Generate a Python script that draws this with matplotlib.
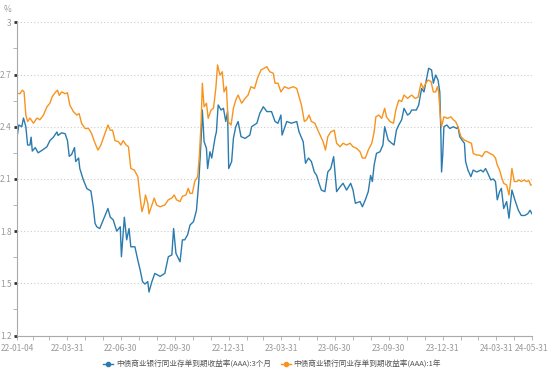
import pandas as pd
import matplotlib
matplotlib.use('Agg')
import matplotlib.pyplot as plt
import matplotlib.dates as mdates
from matplotlib.ticker import MultipleLocator

plt.rcParams['font.family'] = ['Noto Sans CJK SC', 'DejaVu Sans']

# 中债商业银行同业存单到期收益率(AAA):3个月
dates_3m = [
    '2022-01-04', '2022-01-07', '2022-01-12', '2022-01-15', '2022-01-19', '2022-01-22', '2022-01-26',
    '2022-01-28', '2022-01-30', '2022-02-04', '2022-02-09', '2022-02-18', '2022-02-24', '2022-03-01',
    '2022-03-07', '2022-03-13', '2022-03-15', '2022-03-21', '2022-03-27', '2022-03-31', '2022-04-03',
    '2022-04-07', '2022-04-12', '2022-04-14', '2022-04-19', '2022-04-21', '2022-04-27', '2022-05-03',
    '2022-05-10', '2022-05-14', '2022-05-17', '2022-05-20', '2022-05-25', '2022-05-31', '2022-06-08',
    '2022-06-12', '2022-06-17', '2022-06-23', '2022-06-29', '2022-07-01', '2022-07-06', '2022-07-10',
    '2022-07-14', '2022-07-17', '2022-07-24', '2022-07-29', '2022-08-02', '2022-08-06', '2022-08-10',
    '2022-08-15', '2022-08-17', '2022-08-22', '2022-08-27', '2022-09-05', '2022-09-13', '2022-09-19',
    '2022-09-25', '2022-09-28', '2022-10-02', '2022-10-09', '2022-10-13', '2022-10-17', '2022-10-22',
    '2022-10-26', '2022-11-01', '2022-11-06', '2022-11-10', '2022-11-14', '2022-11-16', '2022-11-19',
    '2022-11-23', '2022-11-25', '2022-11-29', '2022-12-02', '2022-12-08', '2022-12-10', '2022-12-13',
    '2022-12-18', '2022-12-22', '2022-12-26', '2022-12-29', '2022-12-31', '2023-01-05', '2023-01-08',
    '2023-01-12', '2023-01-16', '2023-01-21', '2023-01-28', '2023-02-05', '2023-02-08', '2023-02-17',
    '2023-02-22', '2023-02-28', '2023-03-06', '2023-03-14', '2023-03-20', '2023-03-25', '2023-03-30',
    '2023-04-01', '2023-04-09', '2023-04-17', '2023-04-26', '2023-04-30', '2023-05-07', '2023-05-11',
    '2023-05-16', '2023-05-21', '2023-05-26', '2023-05-30', '2023-06-03', '2023-06-07', '2023-06-13',
    '2023-06-18', '2023-06-23', '2023-06-28', '2023-07-03', '2023-07-09', '2023-07-14', '2023-07-20',
    '2023-07-27', '2023-07-31', '2023-08-04', '2023-08-12', '2023-08-16', '2023-08-21', '2023-08-26',
    '2023-08-30', '2023-09-02', '2023-09-05', '2023-09-09', '2023-09-15', '2023-09-20', '2023-09-23',
    '2023-09-29', '2023-10-05', '2023-10-09', '2023-10-13', '2023-10-17', '2023-10-22', '2023-10-26',
    '2023-11-01', '2023-11-05', '2023-11-08', '2023-11-16', '2023-11-20', '2023-11-25', '2023-11-29',
    '2023-12-03', '2023-12-07', '2023-12-12', '2023-12-15', '2023-12-19', '2023-12-23', '2023-12-26',
    '2023-12-28', '2023-12-29', '2023-12-31', '2024-01-02', '2024-01-07', '2024-01-12', '2024-01-18',
    '2024-01-24', '2024-01-26', '2024-01-29', '2024-02-02', '2024-02-06', '2024-02-08', '2024-02-12',
    '2024-02-17', '2024-02-21', '2024-02-27', '2024-03-05', '2024-03-09', '2024-03-13', '2024-03-17',
    '2024-03-22', '2024-03-26', '2024-03-30', '2024-04-02', '2024-04-06', '2024-04-09', '2024-04-13',
    '2024-04-18', '2024-04-22', '2024-04-25', '2024-04-27', '2024-05-02', '2024-05-08', '2024-05-13',
    '2024-05-19', '2024-05-24', '2024-05-28', '2024-05-31',
]
yield_3m = [
    2.34, 2.41, 2.40, 2.45, 2.40, 2.295, 2.295,
    2.34, 2.26, 2.28, 2.25, 2.27, 2.285, 2.32,
    2.34, 2.37, 2.35, 2.365, 2.36, 2.32, 2.23,
    2.24, 2.28, 2.20, 2.22, 2.16, 2.095, 2.045,
    2.03, 1.94, 1.845, 1.825, 1.815, 1.865, 1.93,
    1.88, 1.865, 1.80, 1.825, 1.653, 1.88, 1.75,
    1.815, 1.71, 1.71, 1.633, 1.576, 1.51, 1.496,
    1.51, 1.45, 1.51, 1.557, 1.54, 1.557, 1.653,
    1.663, 1.815, 1.672, 1.624, 1.75, 1.75, 1.78,
    1.835, 1.855, 1.92, 2.085, 2.333, 2.496, 2.314,
    2.276, 2.16, 2.256, 2.22, 2.343, 2.37, 2.525,
    2.496, 2.506, 2.43, 2.487, 2.16, 2.20, 2.333,
    2.40, 2.43, 2.343, 2.333, 2.352, 2.40, 2.42,
    2.477, 2.515, 2.487, 2.487, 2.43, 2.42, 2.467,
    2.352, 2.43, 2.42, 2.43, 2.37, 2.314, 2.19,
    2.22, 2.20, 2.14, 2.12, 2.075, 2.036, 2.027,
    2.14, 2.16, 2.228, 2.027, 2.055, 2.075, 2.036,
    2.075, 2.036, 1.96, 1.97, 1.94, 1.98, 2.027,
    2.12, 2.085, 2.18, 2.247, 2.256, 2.295, 2.40,
    2.323, 2.305, 2.295, 2.38, 2.41, 2.44, 2.506,
    2.467, 2.477, 2.496, 2.496, 2.525, 2.62, 2.60,
    2.668, 2.736, 2.726, 2.65, 2.697, 2.668, 2.60,
    2.333, 2.14, 2.237, 2.40, 2.41, 2.39, 2.40,
    2.39, 2.40, 2.343, 2.323, 2.305, 2.20, 2.151,
    2.113, 2.151, 2.14, 2.151, 2.14, 2.16, 2.132,
    2.094, 2.10, 2.085, 1.98, 2.027, 2.046, 1.93,
    1.97, 1.874, 1.97, 2.036, 1.98, 1.92, 1.89,
    1.89, 1.90, 1.92, 1.90,
]

# 中债商业银行同业存单到期收益率(AAA):1年
dates_1y = [
    '2022-01-04', '2022-01-09', '2022-01-13', '2022-01-16', '2022-01-19', '2022-01-22', '2022-01-26',
    '2022-02-01', '2022-02-07', '2022-02-12', '2022-02-18', '2022-02-24', '2022-03-01', '2022-03-05',
    '2022-03-11', '2022-03-14', '2022-03-17', '2022-03-21', '2022-03-27', '2022-03-31', '2022-04-04',
    '2022-04-10', '2022-04-16', '2022-04-20', '2022-04-24', '2022-04-30', '2022-05-06', '2022-05-11',
    '2022-05-17', '2022-05-22', '2022-05-27', '2022-06-02', '2022-06-08', '2022-06-12', '2022-06-16',
    '2022-06-20', '2022-06-26', '2022-06-30', '2022-07-04', '2022-07-09', '2022-07-13', '2022-07-17',
    '2022-07-23', '2022-07-29', '2022-08-02', '2022-08-05', '2022-08-09', '2022-08-11', '2022-08-15',
    '2022-08-17', '2022-08-22', '2022-08-26', '2022-08-30', '2022-09-05', '2022-09-13', '2022-09-19',
    '2022-09-25', '2022-09-29', '2022-10-03', '2022-10-09', '2022-10-13', '2022-10-19', '2022-10-23',
    '2022-10-26', '2022-10-30', '2022-11-03', '2022-11-08', '2022-11-11', '2022-11-14', '2022-11-16',
    '2022-11-19', '2022-11-23', '2022-11-26', '2022-12-01', '2022-12-05', '2022-12-09', '2022-12-12',
    '2022-12-16', '2022-12-20', '2022-12-23', '2022-12-27', '2022-12-30', '2023-01-04', '2023-01-08',
    '2023-01-12', '2023-01-16', '2023-01-22', '2023-01-28', '2023-02-02', '2023-02-07', '2023-02-13',
    '2023-02-18', '2023-02-24', '2023-03-06', '2023-03-11', '2023-03-17', '2023-03-20', '2023-03-25',
    '2023-03-30', '2023-04-05', '2023-04-12', '2023-04-20', '2023-04-26', '2023-04-30', '2023-05-04',
    '2023-05-09', '2023-05-13', '2023-05-17', '2023-05-21', '2023-05-27', '2023-06-01', '2023-06-06',
    '2023-06-10', '2023-06-14', '2023-06-18', '2023-06-23', '2023-06-29', '2023-07-03', '2023-07-09',
    '2023-07-14', '2023-07-20', '2023-07-26', '2023-07-31', '2023-08-06', '2023-08-12', '2023-08-16',
    '2023-08-21', '2023-08-26', '2023-09-01', '2023-09-05', '2023-09-08', '2023-09-13', '2023-09-18',
    '2023-09-23', '2023-09-26', '2023-10-02', '2023-10-08', '2023-10-12', '2023-10-17', '2023-10-22',
    '2023-10-26', '2023-11-01', '2023-11-08', '2023-11-14', '2023-11-19', '2023-11-24', '2023-11-28',
    '2023-12-02', '2023-12-06', '2023-12-11', '2023-12-15', '2023-12-19', '2023-12-22', '2023-12-24',
    '2023-12-27', '2023-12-29', '2024-01-02', '2024-01-08', '2024-01-14', '2024-01-18', '2024-01-22',
    '2024-01-26', '2024-01-31', '2024-02-06', '2024-02-12', '2024-02-18', '2024-02-21', '2024-02-27',
    '2024-03-03', '2024-03-07', '2024-03-12', '2024-03-16', '2024-03-20', '2024-03-26', '2024-03-30',
    '2024-04-02', '2024-04-06', '2024-04-10', '2024-04-13', '2024-04-18', '2024-04-22', '2024-04-25',
    '2024-04-27', '2024-05-01', '2024-05-05', '2024-05-09', '2024-05-13', '2024-05-18', '2024-05-22',
    '2024-05-26', '2024-05-29', '2024-05-31',
]
yield_1y = [
    2.592, 2.59, 2.61, 2.60, 2.467, 2.43, 2.45,
    2.42, 2.45, 2.44, 2.467, 2.515, 2.535, 2.573,
    2.60, 2.61, 2.58, 2.60, 2.59, 2.595, 2.525,
    2.487, 2.467, 2.475, 2.42, 2.39, 2.39, 2.362,
    2.305, 2.266, 2.295, 2.352, 2.41, 2.38, 2.38,
    2.32, 2.314, 2.295, 2.32, 2.295, 2.285, 2.16,
    2.151, 2.113, 1.99, 1.912, 1.96, 2.008, 1.96,
    1.90, 1.95, 1.99, 1.95, 1.94, 1.95, 1.98,
    1.99, 2.008, 1.98, 1.97, 2.0, 2.008, 2.046,
    2.017, 2.017, 2.085, 2.113, 2.237, 2.43, 2.65,
    2.515, 2.535, 2.448, 2.496, 2.506, 2.62, 2.755,
    2.697, 2.716, 2.60, 2.63, 2.43, 2.41, 2.506,
    2.553, 2.582, 2.535, 2.563, 2.582, 2.63, 2.62,
    2.678, 2.726, 2.745, 2.716, 2.707, 2.65, 2.65,
    2.60, 2.63, 2.62, 2.63, 2.62, 2.573, 2.525,
    2.43, 2.44, 2.467, 2.43, 2.42, 2.38, 2.343,
    2.314, 2.266, 2.343, 2.37, 2.38, 2.305, 2.285,
    2.305, 2.295, 2.305, 2.285, 2.276, 2.256, 2.22,
    2.22, 2.266, 2.305, 2.37, 2.457, 2.467, 2.448,
    2.506, 2.457, 2.43, 2.42, 2.496, 2.553, 2.545,
    2.582, 2.563, 2.582, 2.563, 2.57, 2.65, 2.62,
    2.65, 2.668, 2.66, 2.60, 2.60, 2.63, 2.60,
    2.457, 2.40, 2.457, 2.448, 2.457, 2.44, 2.43,
    2.40, 2.343, 2.323, 2.314, 2.305, 2.247, 2.237,
    2.237, 2.228, 2.256, 2.256, 2.247, 2.237, 2.22,
    2.18, 2.151, 2.103, 2.075, 2.065, 2.008, 2.094,
    2.16, 2.085, 2.085, 2.094, 2.085, 2.094, 2.085,
    2.09, 2.065, 2.065,
]

label_3m = '中债商业银行同业存单到期收益率(AAA):3个月'
label_1y = '中债商业银行同业存单到期收益率(AAA):1年'
tick_dates = ['2022-01-04', '2022-03-31', '2022-06-30', '2022-09-30', '2022-12-31', '2023-03-31',
              '2023-06-30', '2023-09-30', '2023-12-31', '2024-03-31', '2024-05-31']

blue = '#2a7bae'
orange = '#f7931e'
grey = '#999999'

fig = plt.figure(figsize=(5.5, 3.72), dpi=100)
ax = fig.add_axes([0.031, 0.098, 0.936, 0.842])

ax.plot(pd.to_datetime(dates_3m), yield_3m, color=blue, lw=1.0, label=label_3m)
ax.plot(pd.to_datetime(dates_1y), yield_1y, color=orange, lw=1.0, label=label_1y)

ax.set_ylim(1.2, 3.0)
ax.set_xlim(pd.Timestamp('2022-01-04'), pd.Timestamp('2024-05-31'))
ax.yaxis.set_major_locator(MultipleLocator(0.3))
ax.yaxis.set_minor_locator(MultipleLocator(0.15))
ax.yaxis.set_major_formatter(plt.FuncFormatter(lambda v, p: ('%.1f' % v).rstrip('0').rstrip('.')))
ax.grid(axis='y', which='major', linestyle=(0, (1, 2)), color='#cccccc', lw=0.8)

ticks = pd.to_datetime(tick_dates)
ax.set_xticks(ticks)
ax.set_xticklabels([t.strftime('%y-%m-%d') for t in ticks])
ax.xaxis.set_minor_locator(mdates.MonthLocator(bymonthday=-1))

for s in ['top', 'right']:
    ax.spines[s].set_visible(False)
for s in ['left', 'bottom']:
    ax.spines[s].set_color('#aaaaaa')
    ax.spines[s].set_linewidth(0.8)

ax.tick_params(axis='y', which='major', length=2, width=2, color='#333333',
               labelsize=6, labelcolor=grey, pad=2)
ax.tick_params(axis='y', which='minor', length=3, width=0.6, color='#aaaaaa')
ax.tick_params(axis='x', which='both', length=3, width=0.6, color='#aaaaaa',
               labelsize=6, labelcolor=grey, pad=3)

fig.text(0.013, 0.975, '%', fontsize=6, color=grey, ha='center', va='center')

leg = fig.legend(handles=ax.get_lines(), loc='center', bbox_to_anchor=(0.495, 0.02),
                 ncol=2, frameon=False, fontsize=5.5, handlelength=1.3, columnspacing=1.2,
                 handletextpad=0.4, borderpad=0.1)
for h in leg.legend_handles:
    h.set_marker('o')
    h.set_markersize(3)
for t in leg.get_texts():
    t.set_color('#555555')

fig.savefig('out.png', dpi=100)
